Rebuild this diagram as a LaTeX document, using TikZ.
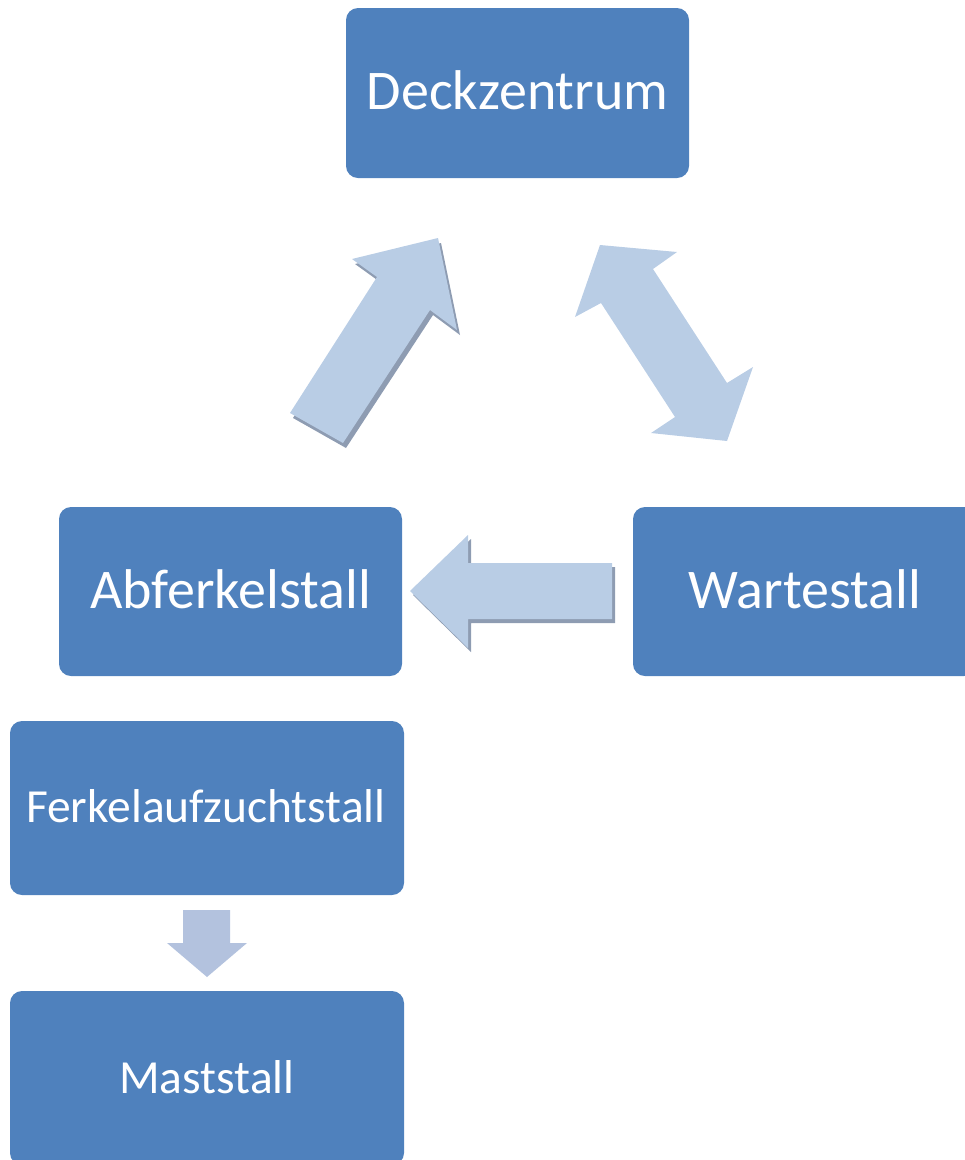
\documentclass[tikz,border=0pt]{standalone}
\usepackage{fontspec}
\setmainfont{Carlito}
\definecolor{boxblue}{HTML}{4F81BD}
\definecolor{arrowblue}{HTML}{B9CDE5}
\definecolor{arrowdown}{HTML}{B3C2DE}
\definecolor{shadowc}{HTML}{8E9CB2}
\begin{document}
\begin{tikzpicture}[x=1pt,y=-1pt,
  box/.style={draw=none,fill=boxblue,rounded corners=12pt,text=white,inner sep=0pt,anchor=center},
  bigtext/.style={font=\fontsize{56}{60}\selectfont},
  smalltext/.style={font=\fontsize{47.5}{52}\selectfont},
  blockarrow/.style={fill=arrowblue,draw=none},
  arrowshadow/.style={fill=shadowc,draw=none}]
\useasboundingbox (0,0) rectangle (965,1160);
\begin{scope}
\clip (0,0) rectangle (965,1160);
\node[box,minimum width=343pt,minimum height=170pt] (deck) at (517.5,93) {};
\node[text=white,bigtext] (decklabel) at (517.5,90) {Deckzentrum};
\node[box,minimum width=343pt,minimum height=169pt] (abf) at (230.5,591.5) {};
\node[text=white,bigtext] (abflabel) at (230.5,589) {Abferkelstall};
\node[box,minimum width=343pt,minimum height=169pt] (warte) at (804.5,591.5) {};
\node[text=white,bigtext] (wartelabel) at (805,589) {Wartestall};
\node[box,minimum width=394pt,minimum height=174pt] (ferkel) at (207,808) {};
\node[text=white,smalltext] (ferkellabel) at (206,806) {Ferkelaufzuchtstall};
\node[box,minimum width=394pt,minimum height=174pt] (mast) at (207,1078) {};
\node[text=white,smalltext] (mastlabel) at (207,1077) {Maststall};

% up-right arrow: Abferkelstall -> Deckzentrum
\fill[arrowshadow,shift={(3,5)}] (290,413) -- (377,277) -- (352,259) -- (438,238) -- (457,330) -- (430,310) -- (343,443) -- cycle;
\fill[blockarrow] (290,413) -- (377,277) -- (352,259) -- (438,238) -- (457,330) -- (430,310) -- (343,443) -- cycle;

% double arrow: Deckzentrum <-> Wartestall
\fill[blockarrow] (600,245) -- (677,252) -- (653,269) -- (727,383) -- (753,367) -- (727,441) -- (651,433) -- (675,417) -- (601,303) -- (575,317) -- cycle;

% left arrow: Wartestall -> Abferkelstall
\fill[arrowshadow,shift={(3,4)}] (410,591) -- (468,535) -- (468,563) -- (612,563) -- (612,619) -- (468,619) -- (468,648) -- cycle;
\fill[blockarrow] (410,591) -- (468,535) -- (468,563) -- (612,563) -- (612,619) -- (468,619) -- (468,648) -- cycle;

% down arrow: Ferkelaufzuchtstall -> Maststall
\fill[fill=arrowdown] (183,910) -- (230,910) -- (230,943) -- (247,943) -- (207,977) -- (167,943) -- (183,943) -- cycle;
\end{scope}
\end{tikzpicture}
\end{document}
